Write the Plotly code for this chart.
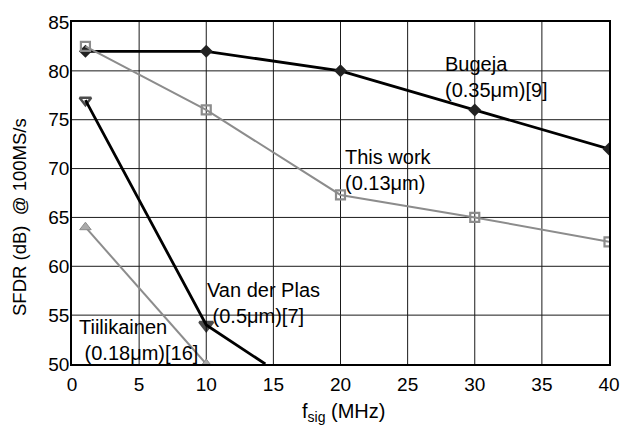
import plotly.graph_objects as go

bug_x = [1, 10, 20, 30, 40]
bug_y = [82, 82, 80, 76, 72]
tw_x = [1, 10, 20, 30, 40]
tw_y = [82.5, 76, 67.3, 65, 62.5]
vdp_x = [1, 10, 14.4]
vdp_y = [77, 54, 50]
til_x = [1, 10]
til_y = [64, 50]

x_ticks = [0, 5, 10, 15, 20, 25, 30, 35, 40]
y_ticks = [50, 55, 60, 65, 70, 75, 80, 85]

labels = ["Bugeja<br>(0.35μm)[9]", "This work<br>(0.13μm)",
          "Van der Plas<br> (0.5μm)[7]", "Tiilikainen<br> (0.18μm)[16]"]
label_x = [27.6, 20.2, 9.9, 0.4]
label_y = [79.4, 69.85, 56.2, 52.5]

x_title = "f<sub>sig</sub> (MHz)"
y_title = "SFDR (dB)  @ 100MS/s"

FONT = "Liberation Sans, Arial, sans-serif"
GRAY = "#8c8c8c"
GRID = "#1a1a1a"

fig = go.Figure()
fig.add_trace(go.Scatter(x=bug_x, y=bug_y, mode="lines+markers",
                         line=dict(color="black", width=2.8),
                         marker=dict(symbol="diamond", size=10, color="#222")))
fig.add_trace(go.Scatter(x=tw_x, y=tw_y, mode="lines+markers",
                         line=dict(color=GRAY, width=2),
                         marker=dict(symbol="square-open", size=9, color=GRAY,
                                     line=dict(width=2.2, color=GRAY))))
fig.add_trace(go.Scatter(x=vdp_x, y=vdp_y, mode="lines+markers",
                         line=dict(color="black", width=2.8),
                         marker=dict(symbol=["triangle-down-open", "triangle-down", "circle"],
                                     size=[10, 12, 0], color="black",
                                     line=dict(width=2.5, color="black"))))
fig.add_trace(go.Scatter(x=til_x, y=til_y, mode="lines+markers",
                         line=dict(color=GRAY, width=2),
                         marker=dict(symbol="triangle-up", size=10, color="#aaa",
                                     line=dict(width=1, color=GRAY))))

# grid lines built from the tick arrays
for xv in x_ticks[1:-1]:
    fig.add_shape(type="line", xref="x", yref="paper", x0=xv, x1=xv, y0=0, y1=1,
                  line=dict(color=GRID, width=1), layer="below")
for yv in y_ticks[1:-1]:
    fig.add_shape(type="line", xref="paper", yref="y", x0=0, x1=1, y0=yv, y1=yv,
                  line=dict(color=GRID, width=1), layer="below")

for t, lx, ly in zip(labels, label_x, label_y):
    fig.add_annotation(x=lx, y=ly, text=t, showarrow=False, xanchor="left",
                       yanchor="middle", align="left",
                       font=dict(family=FONT, size=20, color="black"))

fig.add_annotation(xref="paper", yref="paper", x=0.5056, y=-0.1414, text=x_title,
                   showarrow=False, xanchor="center", yanchor="middle",
                   font=dict(family=FONT, size=20, color="black"))
fig.add_annotation(xref="paper", yref="paper", x=-0.0967, y=0.43, text=y_title,
                   showarrow=False, xanchor="center", yanchor="middle", textangle=-90,
                   font=dict(family=FONT, size=18.5, color="black"))

fig.update_layout(
    width=632, height=426, showlegend=False,
    margin=dict(l=72, r=22, t=14, b=62),
    plot_bgcolor="white", paper_bgcolor="white",
    font=dict(family=FONT, size=19, color="black"),
)
fig.update_xaxes(range=[0, 40], tickmode="array", tickvals=x_ticks, showgrid=False,
                 showline=True, linecolor="black", linewidth=1.5, mirror=True,
                 zeroline=False, ticks="", ticklabelstandoff=2)
fig.update_yaxes(range=[50, 85], tickmode="array", tickvals=y_ticks, showgrid=False,
                 showline=True, linecolor="black", linewidth=1.5, mirror=True,
                 zeroline=False, ticks="", ticklabelstandoff=-3)

fig.write_html("out.html")
